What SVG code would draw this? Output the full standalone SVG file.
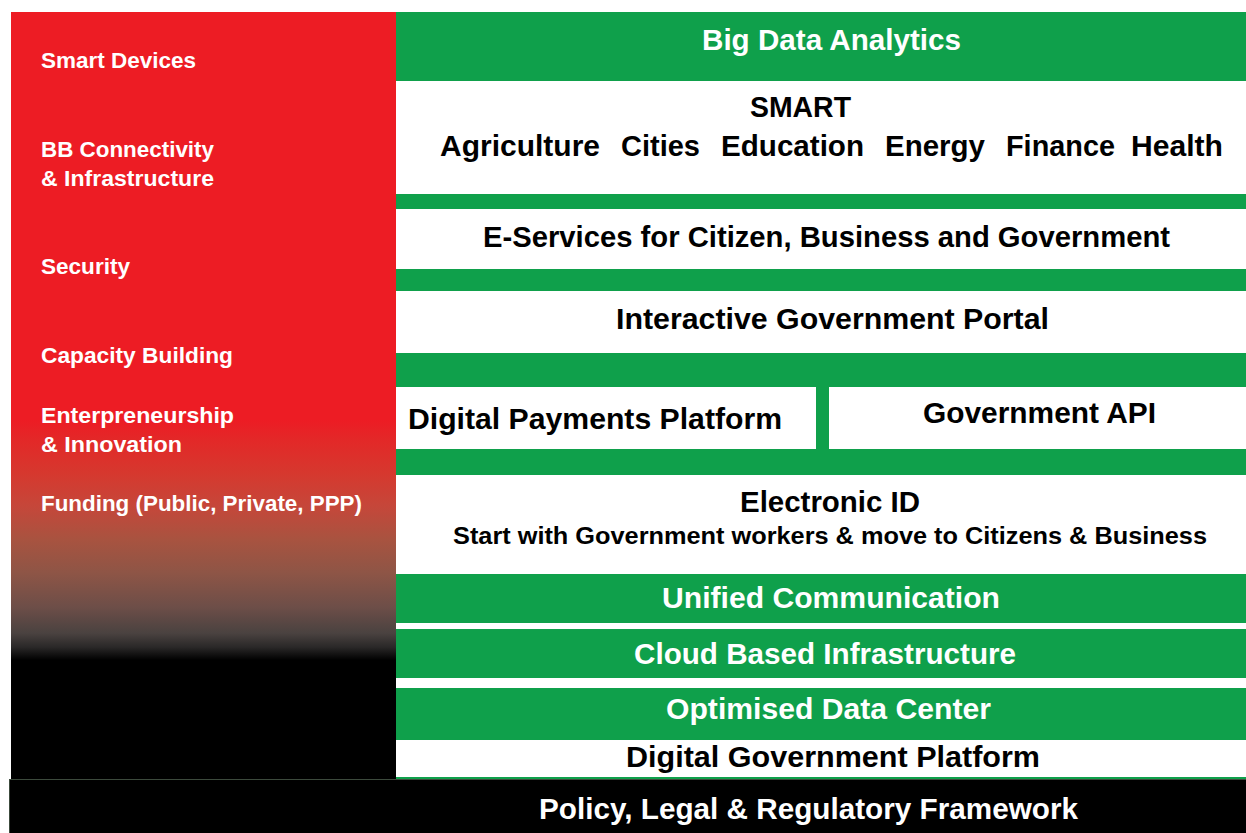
<svg xmlns="http://www.w3.org/2000/svg" width="1246" height="833" viewBox="0 0 1246 833">
  <defs>
    <linearGradient id="leftGrad" gradientUnits="userSpaceOnUse" x1="0" y1="12" x2="0" y2="779">
      <stop offset="0.532" stop-color="#ED1C24"/>
      <stop offset="0.558" stop-color="#E32828"/>
      <stop offset="0.601" stop-color="#D6382E"/>
      <stop offset="0.645" stop-color="#C5473A"/>
      <stop offset="0.688" stop-color="#A85340"/>
      <stop offset="0.731" stop-color="#8E5546"/>
      <stop offset="0.776" stop-color="#6D4E48"/>
      <stop offset="0.810" stop-color="#4A4240"/>
      <stop offset="0.828" stop-color="#2A2828"/>
      <stop offset="0.845" stop-color="#000000"/>
    </linearGradient>
  </defs>
  <style>
    text { font-family: "Liberation Sans", Arial, sans-serif; font-weight: bold; }
    .side { fill: #ffffff; font-size: 22px; }
    .lw { fill: #ffffff; font-size: 29px; }
    .lb { fill: #000000; font-size: 29px; }
    .sm { fill: #000000; font-size: 23px; }
    .green { fill: #0FA04B; }
    .white { fill: #ffffff; }
  </style>
  <rect x="0" y="0" width="1246" height="833" fill="#ffffff"/>

  <g id="enablers">
    <rect x="11" y="12" width="385" height="767" fill="url(#leftGrad)"/>
    <text class="side" x="41" y="68" textLength="155" lengthAdjust="spacingAndGlyphs">Smart Devices</text>
    <text class="side" x="41" y="157" textLength="173" lengthAdjust="spacingAndGlyphs">BB Connectivity</text>
    <text class="side" x="41" y="186" textLength="173" lengthAdjust="spacingAndGlyphs">&amp; Infrastructure</text>
    <text class="side" x="41" y="274" textLength="89" lengthAdjust="spacingAndGlyphs">Security</text>
    <text class="side" x="41" y="363" textLength="192" lengthAdjust="spacingAndGlyphs">Capacity Building</text>
    <text class="side" x="41" y="423" textLength="193" lengthAdjust="spacingAndGlyphs">Enterpreneurship</text>
    <text class="side" x="41" y="452" textLength="141" lengthAdjust="spacingAndGlyphs">&amp; Innovation</text>
    <text class="side" x="41" y="511" textLength="321" lengthAdjust="spacingAndGlyphs">Funding (Public, Private, PPP)</text>
  </g>

  <rect class="green" x="396" y="12" width="850" height="768"/>

  <g id="big-data">
    <text class="lw" x="702" y="50" textLength="259" lengthAdjust="spacingAndGlyphs">Big Data Analytics</text>
  </g>

  <g id="smart">
    <rect class="white" x="396" y="81" width="850" height="113"/>
    <text class="lb" x="750" y="117" textLength="101" lengthAdjust="spacingAndGlyphs">SMART</text>
    <text class="lb" x="440" y="156" textLength="160" lengthAdjust="spacingAndGlyphs">Agriculture</text>
    <text class="lb" x="621" y="156" textLength="79" lengthAdjust="spacingAndGlyphs">Cities</text>
    <text class="lb" x="721" y="156" textLength="143" lengthAdjust="spacingAndGlyphs">Education</text>
    <text class="lb" x="885" y="156" textLength="100" lengthAdjust="spacingAndGlyphs">Energy</text>
    <text class="lb" x="1006" y="156" textLength="109" lengthAdjust="spacingAndGlyphs">Finance</text>
    <text class="lb" x="1131" y="156" textLength="92" lengthAdjust="spacingAndGlyphs">Health</text>
  </g>

  <g id="e-services">
    <rect class="white" x="396" y="209" width="850" height="60"/>
    <text class="lb" x="483" y="247" textLength="687" lengthAdjust="spacingAndGlyphs">E-Services for Citizen, Business and Government</text>
  </g>

  <g id="portal">
    <rect class="white" x="396" y="291" width="850" height="62"/>
    <text class="lb" x="616" y="329" textLength="433" lengthAdjust="spacingAndGlyphs">Interactive Government Portal</text>
  </g>

  <g id="payments">
    <rect class="white" x="396" y="387" width="420" height="62"/>
    <text class="lb" x="408" y="429" textLength="374" lengthAdjust="spacingAndGlyphs">Digital Payments Platform</text>
  </g>

  <g id="api">
    <rect class="white" x="829" y="387" width="417" height="62"/>
    <text class="lb" x="923" y="423" textLength="233" lengthAdjust="spacingAndGlyphs">Government API</text>
  </g>

  <g id="eid">
    <rect class="white" x="396" y="475" width="850" height="99"/>
    <text class="lb" x="740" y="512" textLength="180" lengthAdjust="spacingAndGlyphs">Electronic ID</text>
    <text class="sm" x="453" y="544" textLength="754" lengthAdjust="spacingAndGlyphs">Start with Government workers &amp; move to Citizens &amp; Business</text>
  </g>

  <g id="unified">
    <text class="lw" x="662" y="608" textLength="338" lengthAdjust="spacingAndGlyphs">Unified Communication</text>
  </g>
  <rect class="white" x="396" y="623" width="850" height="6"/>

  <g id="cloud">
    <text class="lw" x="634" y="664" textLength="382" lengthAdjust="spacingAndGlyphs">Cloud Based Infrastructure</text>
  </g>
  <rect class="white" x="396" y="678" width="850" height="10"/>

  <g id="datacenter">
    <text class="lw" x="666" y="719" textLength="325" lengthAdjust="spacingAndGlyphs">Optimised Data Center</text>
  </g>

  <g id="platform">
    <rect class="white" x="396" y="740" width="850" height="37"/>
    <text class="lb" x="626" y="767" textLength="414" lengthAdjust="spacingAndGlyphs">Digital Government Platform</text>
  </g>

  <g id="policy">
    <rect x="9.5" y="779.5" width="1237" height="54" fill="#000000" stroke="#3C4A3C" stroke-width="1"/>
    <text class="lw" x="539" y="819" textLength="539" lengthAdjust="spacingAndGlyphs">Policy, Legal &amp; Regulatory Framework</text>
  </g>

  <g id="connectors"/>
</svg>
